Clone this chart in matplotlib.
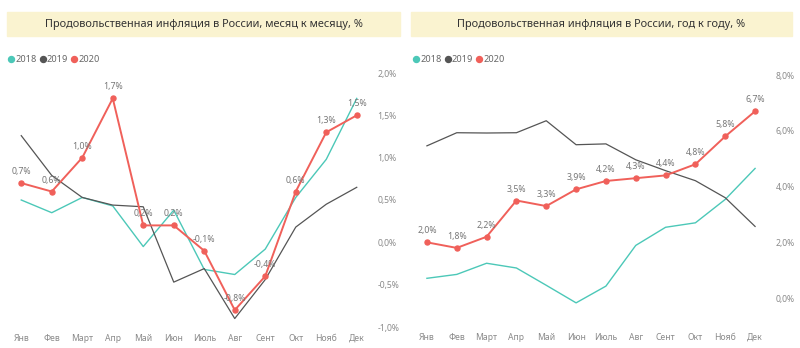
import matplotlib
matplotlib.use('Agg')
import matplotlib.pyplot as plt
from matplotlib.patches import Rectangle
from matplotlib.lines import Line2D

plt.rcParams['font.family'] = ['Noto Sans', 'DejaVu Sans']

months = ['Янв', 'Фев', 'Март', 'Апр', 'Май', 'Июн', 'Июль', 'Авг', 'Сент', 'Окт', 'Нояб', 'Дек']

# month-on-month, %
mom_2018 = [0.50, 0.35, 0.53, 0.43, -0.05, 0.38, -0.32, -0.38, -0.08, 0.53, 0.98, 1.70]
mom_2019 = [1.26, 0.79, 0.53, 0.44, 0.42, -0.47, -0.31, -0.90, -0.44, 0.18, 0.45, 0.65]
mom_2020 = [0.7, 0.6, 1.0, 1.7, 0.2, 0.2, -0.1, -0.8, -0.4, 0.6, 1.3, 1.5]

# year-on-year, %
yoy_2018 = [0.71, 0.85, 1.25, 1.08, 0.46, -0.17, 0.43, 1.89, 2.54, 2.70, 3.54, 4.65]
yoy_2019 = [5.46, 5.93, 5.92, 5.93, 6.36, 5.50, 5.53, 4.96, 4.57, 4.21, 3.60, 2.57]
yoy_2020 = [2.0, 1.8, 2.2, 3.5, 3.3, 3.9, 4.2, 4.3, 4.4, 4.8, 5.8, 6.7]

titles = ['Продовольственная инфляция в России, месяц к месяцу, %',
          'Продовольственная инфляция в России, год к году, %']

c18, c19, c20 = '#4CC8B8', '#555555', '#F0605A'
grey = '#8a8a8a'
W, H = 800, 348

fig = plt.figure(figsize=(8, 3.48), dpi=100)


def px_axes(x0, x1, ytop, ybot):
    return fig.add_axes([x0 / W, (H - ybot) / H, (x1 - x0) / W, (ybot - ytop) / H])


def fmt(v):
    return ('%.1f%%' % v).replace('.', ',')


def draw(ax, s18, s19, s20, ticks, ylim):
    x = list(range(12))
    ax.plot(x, s18, color=c18, lw=1.0)
    ax.plot(x, s19, color=c19, lw=0.9)
    ax.plot(x, s20, color=c20, lw=1.4, marker='o', ms=3.6)
    for i, v in enumerate(s20):
        ax.annotate(fmt(v), (i, v), xytext=(0, 5), textcoords='offset points',
                    ha='center', va='bottom', fontsize=6.3, color='#777777')
    ax.set_xlim(-0.5, 11.5)
    ax.set_ylim(*ylim)
    ax.set_xticks(x)
    ax.set_xticklabels(months)
    ax.set_yticks(ticks)
    ax.set_yticklabels([fmt(t) for t in ticks])
    ax.yaxis.tick_right()
    ax.tick_params(length=0, labelsize=6.2, labelcolor=grey)
    ax.tick_params(axis='x', pad=5)
    ax.tick_params(axis='y', pad=4)
    for s in ax.spines.values():
        s.set_visible(False)


ax1 = px_axes(6, 372, 73, 327)
draw(ax1, mom_2018, mom_2019, mom_2020, [-1.0, -0.5, 0.0, 0.5, 1.0, 1.5, 2.0], (-1.0, 2.0))

ax2 = px_axes(412, 770, 75, 326)
draw(ax2, yoy_2018, yoy_2019, yoy_2020, [0, 2, 4, 6, 8], (-1.0, 8.0))

# title boxes
for (x0, x1), t in zip([(7, 400), (411, 792)], titles):
    fig.patches.append(Rectangle((x0 / W, (H - 36) / H), (x1 - x0) / W, 24 / H,
                                 transform=fig.transFigure, color='#FAF3D0', zorder=0))
    fig.text((x0 + x1) / 2 / W, (H - 24) / H, t, ha='center', va='center',
             fontsize=7.9, color='#333333')

# legends
handles = [Line2D([], [], ls='none', marker='o', ms=4.3, color=c) for c in (c18, c19, c20)]
for xl in (9, 414):
    fig.legend(handles, ['2018', '2019', '2020'], loc='center left',
               bbox_to_anchor=(xl / W, (H - 60) / H), ncol=3, frameon=False,
               handlelength=0.5, handletextpad=0.2, columnspacing=0.4,
               fontsize=6.6, labelcolor='#666666', borderaxespad=0, borderpad=0)

fig.savefig('out.png', dpi=100)
